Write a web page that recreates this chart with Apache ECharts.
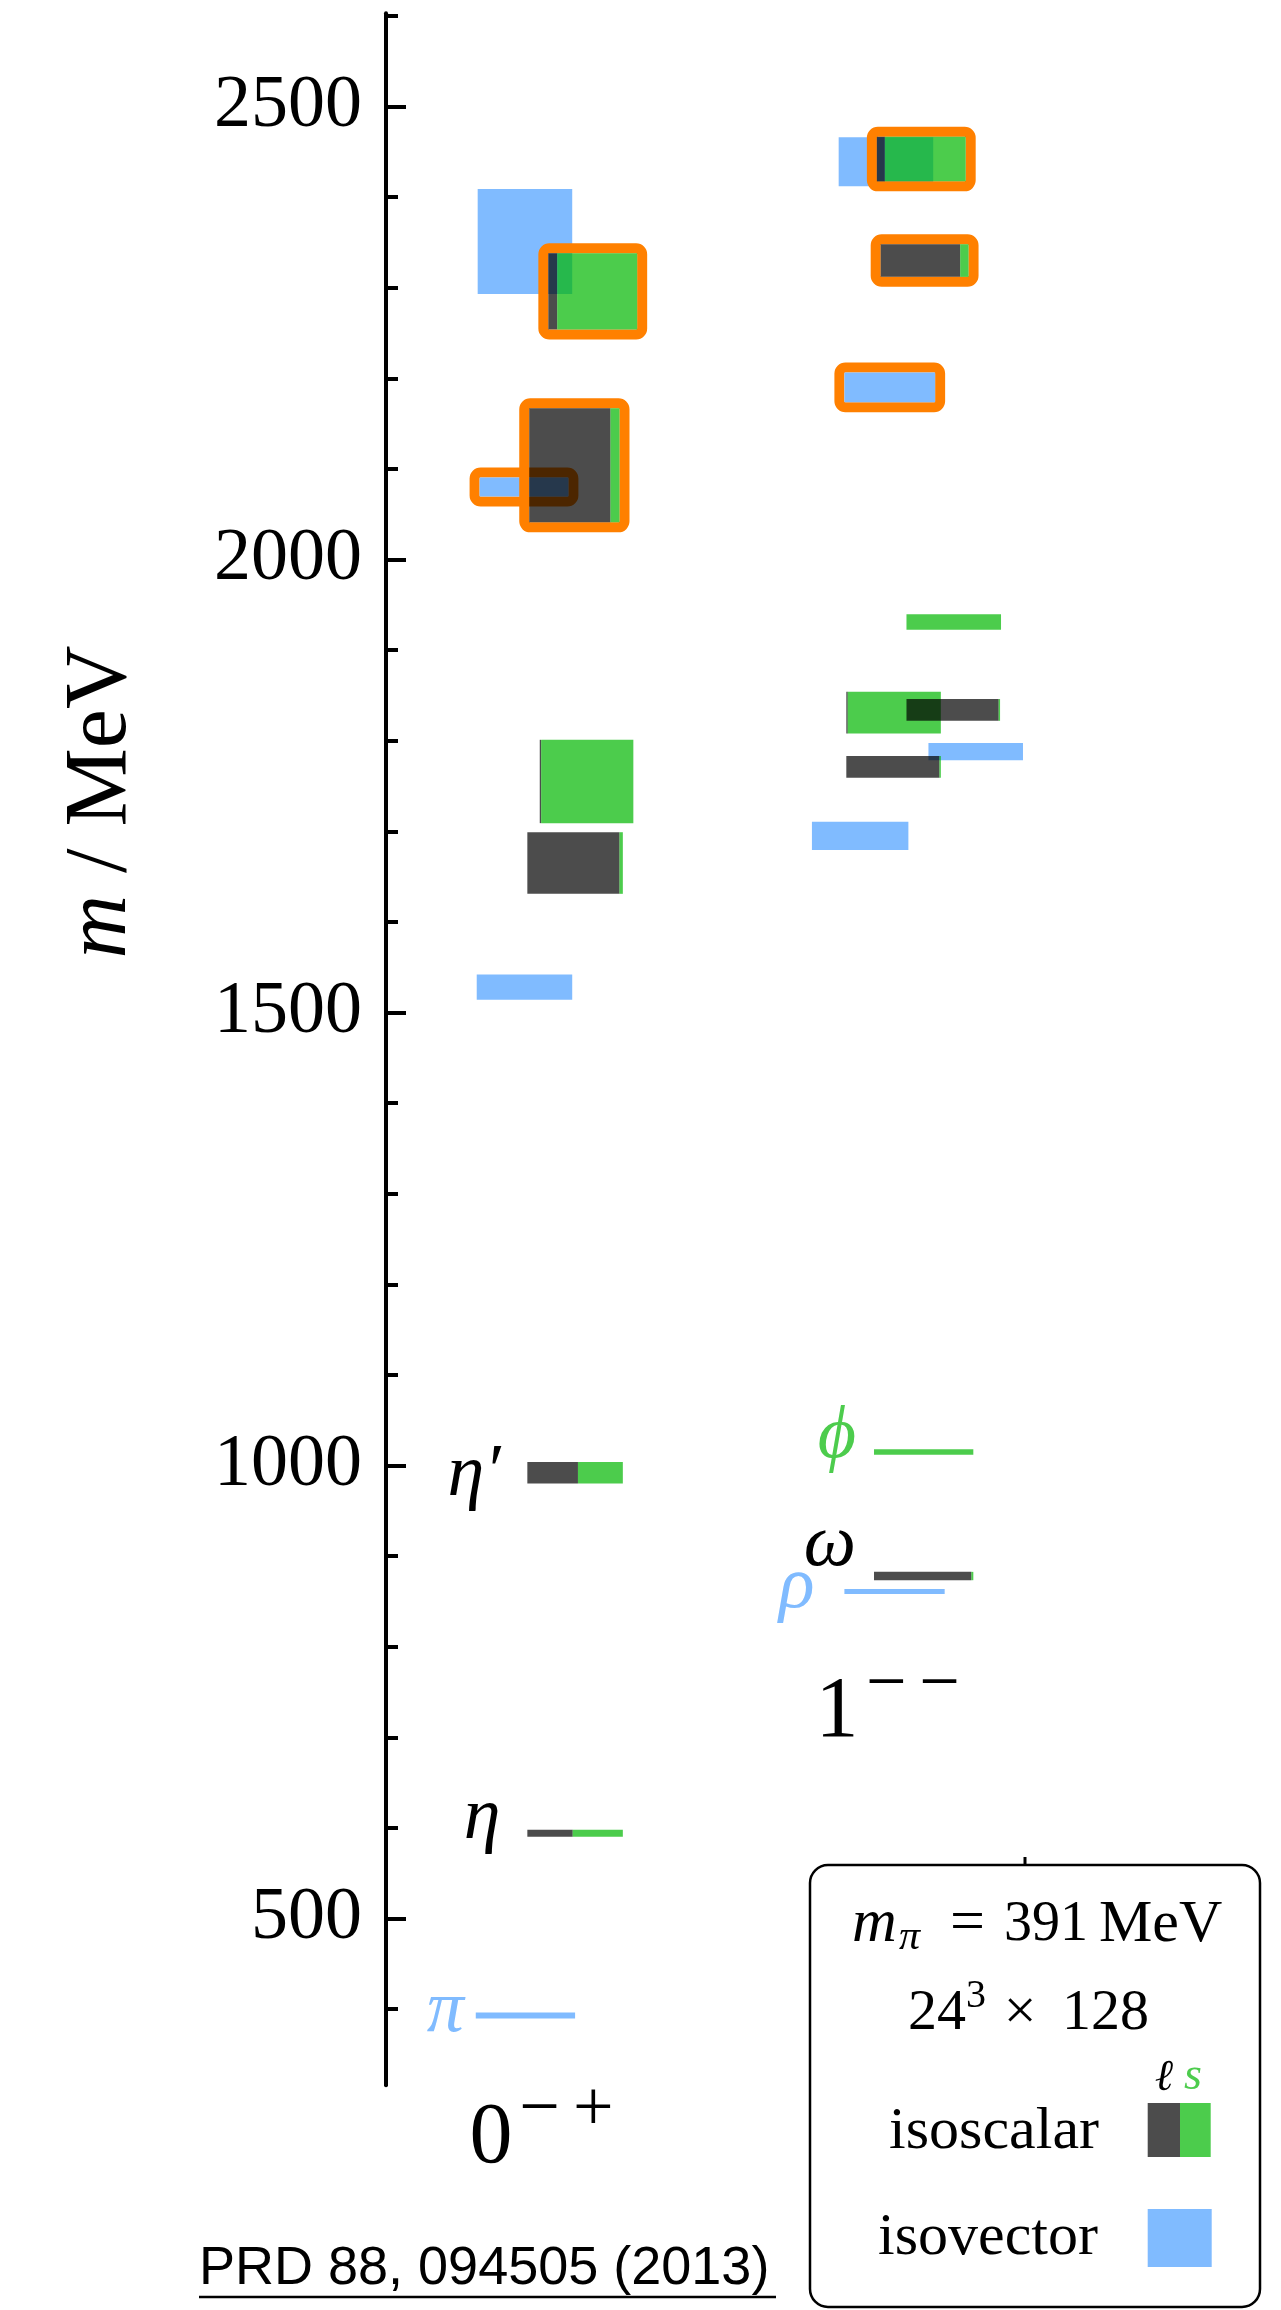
<!DOCTYPE html>
<html>
<head>
<meta charset="utf-8">
<script src="https://cdn.jsdelivr.net/npm/echarts@6/dist/echarts.min.js"></script>
<style>
  html, body { margin: 0; padding: 0; background: #fff; }
  #chart { width: 1281px; height: 2310px; }
</style>
</head>
<body>
<div id="chart"></div>
<script>
// isovector levels (blue): x start / width in column units, mass and half-error in MeV
const ivX    = [0.96, 0.95, 0.98, 0.94, 4.74, 4.80, 5.68, 4.46, 4.80]
const ivW    = [0.99, 1.00, 0.93, 1.04, 0.99, 0.95, 0.99, 1.01, 1.05]
const ivMass = [2351, 1528, 2080, 393, 2439, 2190, 1788, 1695, 861]
const ivErr  = [58, 14, 10.5, 3.3, 27, 16.5, 9.5, 15.6, 2.8]
const ivBox  = [0, 0, 1, 0, 0, 1, 0, 0, 0]
const ivName = ["", "", "", "π", "", "", "", "", "ρ"]

// isoscalar levels: light (gray) fraction, rest strange (green)
const isX     = [1.70, 1.50, 1.61, 1.48, 1.48, 1.48, 5.14, 5.18, 5.45, 4.82, 5.45, 4.82, 5.11, 5.11]
const isW     = [0.93, 0.945, 0.98, 1.00, 1.00, 1.00, 0.93, 0.92, 0.99, 0.99, 0.98, 0.99, 1.04, 1.04]
const isMass  = [2296, 2104, 1755, 1665, 992, 594, 2442, 2330, 1931, 1831, 1834, 1771, 1015, 878]
const isErr   = [42, 63, 46, 34, 12, 3.9, 24.6, 18, 8.6, 23, 12, 12, 3, 4.6]
const isLight = [0.10, 0.90, 0.015, 0.965, 0.53, 0.475, 0.09, 0.905, 0, 0.015, 0.985, 0.985, 0, 0.98]
const isBox   = [1, 1, 0, 0, 0, 0, 1, 1, 0, 0, 0, 0, 0, 0]
const isName  = ["", "", "", "", "η′", "η", "", "", "", "", "", "", "ϕ", "ω"]

const majorTicks = [500, 1000, 1500, 2000, 2500]
const minorTicks = [400, 600, 700, 800, 900, 1100, 1200, 1300, 1400, 1600, 1700, 1800, 1900,
  2100, 2200, 2300, 2400, 2600]

const GRAY = "rgba(0,0,0,0.7)"
const GREEN = "rgba(0,183,0,0.7)"
const GREEN_TXT = "#4dcc4d"
const BLUE = "#80bbff"
const ORANGE = "#ff8000"
const SERIF = '"Liberation Serif", "DejaVu Serif", serif'

const labelStyle = {
  "π": { gap: 12, dy: -4, color: BLUE },
  "η": { gap: 27, dy: -15, color: "#000" },
  "η′": { gap: 27, dy: 3, color: "#000" },
  "ϕ": { gap: 18, dy: -14, color: GREEN_TXT },
  "ω": { gap: 18, dy: -30, color: "#000" },
  "ρ": { gap: 30, dy: -4, color: BLUE },
}

function frame(a, w, h) {
  return {
    type: "rect",
    shape: { x: a[0] - 5, y: a[1] - 5, width: w + 10, height: h + 10, r: 6 },
    style: { fill: "none", stroke: ORANGE, lineWidth: 10 },
  }
}

function label(name, left, cy) {
  const s = labelStyle[name]
  return {
    type: "text",
    style: {
      text: name, x: left - s.gap, y: cy + s.dy,
      textAlign: "right", textVerticalAlign: "middle",
      font: "italic 74px " + SERIF, fill: s.color,
    },
  }
}

function renderIv(params, api) {
  const i = params.dataIndex
  const a = api.coord([api.value(0), api.value(2) + api.value(3)])
  const b = api.coord([api.value(0) + api.value(1), api.value(2) - api.value(3)])
  const w = b[0] - a[0], h = b[1] - a[1]
  const children = []
  if (api.value(4)) children.push(frame(a, w, h))
  children.push({ type: "rect", shape: { x: a[0], y: a[1], width: w, height: h }, style: { fill: BLUE } })
  if (ivName[i]) children.push(label(ivName[i], a[0], (a[1] + b[1]) / 2))
  return { type: "group", children }
}

function renderIs(params, api) {
  const i = params.dataIndex
  const a = api.coord([api.value(0), api.value(2) + api.value(3)])
  const b = api.coord([api.value(0) + api.value(1), api.value(2) - api.value(3)])
  const w = b[0] - a[0], h = b[1] - a[1]
  const xs = a[0] + w * api.value(4)
  const children = []
  if (api.value(5)) children.push(frame(a, w, h))
  children.push({ type: "rect", shape: { x: a[0], y: a[1], width: xs - a[0], height: h }, style: { fill: GRAY } })
  children.push({ type: "rect", shape: { x: xs, y: a[1], width: b[0] - xs, height: h }, style: { fill: GREEN } })
  if (isName[i]) children.push(label(isName[i], a[0], (a[1] + b[1]) / 2))
  return { type: "group", children }
}

function txt(text, x, y, size, opts = {}) {
  return {
    type: "text", z: 100,
    style: {
      text, x, y,
      textAlign: opts.align || "left", textVerticalAlign: "middle",
      font: (opts.italic ? "italic " : "") + size + "px " + (opts.family || SERIF),
      fill: opts.color || "#000",
    },
  }
}

const chart = echarts.init(document.getElementById("chart"))

chart.setOption({
  animation: false,
  backgroundColor: "#fff",
  grid: { left: 386, right: 35.5, top: 13.2, bottom: 224.8, outerBoundsMode: "none" },
  xAxis: { type: "value", min: 0, max: 9, show: false },
  yAxis: [
    {
      type: "value", min: 316, max: 2603, position: "left",
      axisLine: { show: true, onZero: false, lineStyle: { color: "#000", width: 4 } },
      axisTick: { show: true, inside: true, length: 20, customValues: majorTicks, lineStyle: { color: "#000", width: 4 } },
      axisLabel: {
        customValues: majorTicks, fontSize: 74, fontFamily: "Liberation Serif",
        color: "#000", margin: 24, padding: [8, 0, 0, 0],
        formatter: (v) => String(v),
      },
      splitLine: { show: false },
    },
    {
      type: "value", min: 316, max: 2603, position: "left", offset: 0,
      axisLine: { show: false, onZero: false },
      axisTick: { show: true, inside: true, length: 12, customValues: minorTicks, lineStyle: { color: "#000", width: 4 } },
      axisLabel: { show: false },
      splitLine: { show: false },
    },
  ],
  series: [
    {
      name: "isovector", type: "custom", z: 2, renderItem: renderIv,
      data: ivX.map((x, i) => [x, ivW[i], ivMass[i], ivErr[i], ivBox[i]]),
    },
    {
      name: "isoscalar", type: "custom", z: 3, renderItem: renderIs,
      data: isX.map((x, i) => [x, isW[i], isMass[i], isErr[i], isLight[i], isBox[i]]),
    },
  ],
  graphic: [
    {
      type: "text", z: 100, x: 102, y: 802, rotation: Math.PI / 2,
      style: {
        text: "{i|m}{r| / MeV}",
        textAlign: "center", textVerticalAlign: "middle",
        rich: {
          i: { fontStyle: "italic", fontSize: 88, fontFamily: SERIF, fill: "#000" },
          r: { fontSize: 88, fontFamily: SERIF, fill: "#000" },
        },
      },
    },
    // column labels
    txt("0", 491, 2139, 86, { align: "center" }),
    txt("−", 539.5, 2111, 72, { align: "center" }),
    txt("+", 593.4, 2111, 72, { align: "center" }),
    txt("1", 837, 1713, 86, { align: "center" }),
    txt("−", 886.4, 1686, 72, { align: "center" }),
    txt("−", 939.5, 1686, 72, { align: "center" }),
    // legend box
    {
      type: "line", z: 99, shape: { x1: 1025, y1: 1857, x2: 1025, y2: 1866 },
      style: { stroke: "#000", lineWidth: 3 },
    },
    {
      type: "rect", z: 99, shape: { x: 810, y: 1865, width: 450, height: 442, r: 18 },
      style: { fill: "#fff", stroke: "#000", lineWidth: 2.5 },
    },
    txt("m", 852, 1925, 62, { italic: true }),
    txt("π", 899, 1938, 42, { italic: true }),
    txt("=", 967.5, 1925, 62, { align: "center" }),
    txt("391", 1004, 1925, 56),
    txt("MeV", 1099, 1925, 60),
    txt("24", 908, 2014, 58),
    txt("3", 966, 1996, 40),
    txt("×", 1020, 2014, 58, { align: "center" }),
    txt("128", 1062, 2014, 58),
    txt("ℓ", 1164, 2078, 44, { italic: true, align: "center" }),
    txt("s", 1193, 2077, 46, { italic: true, align: "center", color: GREEN_TXT }),
    txt("isoscalar", 1099, 2132, 60, { align: "right" }),
    { type: "rect", z: 100, shape: { x: 1147.7, y: 2103, width: 32.3, height: 54 }, style: { fill: GRAY } },
    { type: "rect", z: 100, shape: { x: 1180, y: 2103, width: 30.7, height: 54 }, style: { fill: GREEN } },
    txt("isovector", 1098, 2238, 60, { align: "right" }),
    { type: "rect", z: 100, shape: { x: 1147.7, y: 2209, width: 64, height: 58 }, style: { fill: BLUE } },
    // reference
    txt("PRD 88, 094505 (2013)", 199, 2269, 54, { family: '"Liberation Sans", Arial, sans-serif' }),
    {
      type: "line", z: 100, shape: { x1: 199, y1: 2297, x2: 776, y2: 2297 },
      style: { stroke: "#000", lineWidth: 2.5 },
    },
  ],
})
</script>
</body>
</html>
